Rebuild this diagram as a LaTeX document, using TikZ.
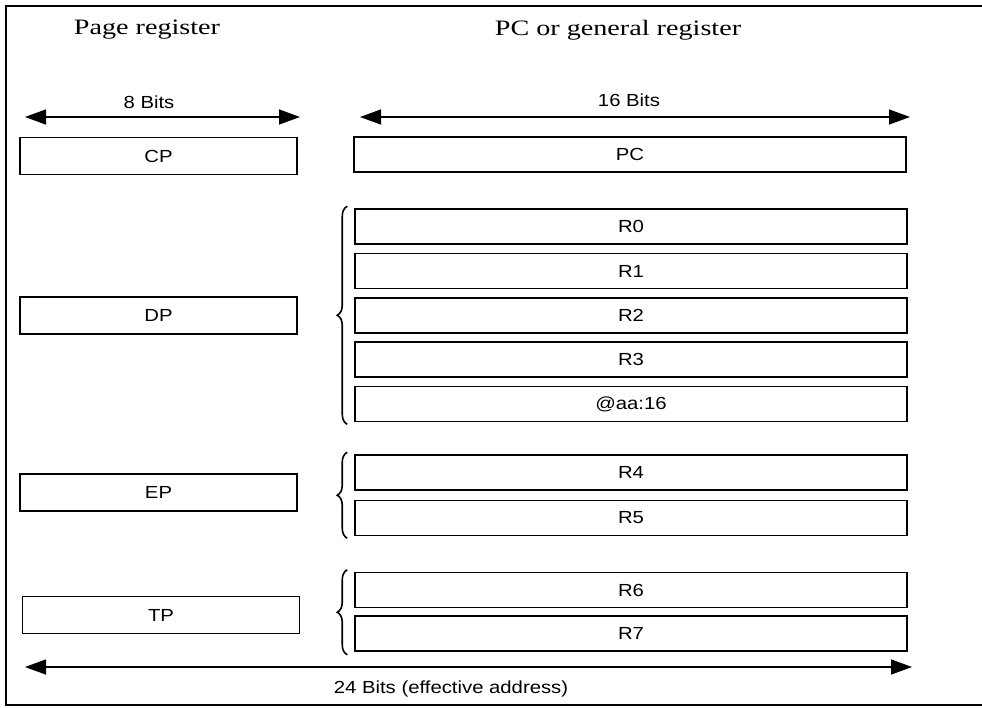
\documentclass[tikz,border=0pt]{standalone}
\usepackage{fontspec}
\setmainfont{Liberation Serif}
\newfontfamily\lblfont{Liberation Sans}
\usetikzlibrary{arrows.meta,decorations.pathreplacing}
\begin{document}
\begin{tikzpicture}[x=1pt,y=-1pt,
  reg/.style={draw,line width=1.5pt,inner sep=0pt,anchor=center,
    font=\lblfont\fontsize{17.5}{17.5}\selectfont},
  pagebox/.style={reg,minimum width=277pt,minimum height=37pt},
  gpbox/.style={reg,minimum width=552pt,minimum height=35pt},
  dimarrow/.style={line width=1.4pt,{Triangle[length=21pt,width=15pt]}-{Triangle[length=21pt,width=15pt]}},
  lbl/.style={font=\lblfont\fontsize{17.5}{17.5}\selectfont,inner sep=0pt},
  ttl/.style={font=\fontsize{22}{22}\selectfont,inner sep=0pt},
  grp/.style={line width=1.6pt,decorate,decoration={brace,amplitude=10pt}}]
\useasboundingbox (0,0) rectangle (982,707);
% frame
\draw[line width=1.3pt] (982,6) -- (6,6) -- (6,705) -- (982,705);
% titles
\node[ttl] (t1) at (147,30) {\scalebox{1.28}[1]{Page register}};
\node[ttl] (t2) at (618,30) {\scalebox{1.28}[1]{PC or general register}};
% dimension arrows
\coordinate (a1) at (25,117); \coordinate (b1) at (300,117);
\coordinate (a2) at (360,117); \coordinate (b2) at (910,117);
\coordinate (a3) at (25,667); \coordinate (b3) at (912,667);
\draw[dimarrow] (a1) -- (b1);
\draw[dimarrow] (a2) -- (b2);
\draw[dimarrow] (a3) -- (b3);
\node[lbl] (l8) at (149,102) {\scalebox{1.16}[1]{8 Bits}};
\node[lbl] (l16) at (629,100) {\scalebox{1.16}[1]{16 Bits}};
\node[lbl] (l24) at (451,689) {\scalebox{1.16}[1]{24 Bits (effective address)}};
% page registers
\node[pagebox] (cp) at (158.5,156) {\scalebox{1.16}[1]{CP}};
\node[pagebox] (dp) at (158.5,315.5) {\scalebox{1.16}[1]{DP}};
\node[pagebox] (ep) at (158.5,492.5) {\scalebox{1.16}[1]{EP}};
\node[pagebox] (tp) at (161,615) {\scalebox{1.16}[1]{TP}};
% general registers
\node[gpbox] (pc) at (630,154.5) {\scalebox{1.16}[1]{PC}};
\node[gpbox] (r0) at (631,226.5) {\scalebox{1.16}[1]{R0}};
\node[gpbox] (r1) at (631,271) {\scalebox{1.16}[1]{R1}};
\node[gpbox] (r2) at (631,315.5) {\scalebox{1.16}[1]{R2}};
\node[gpbox] (r3) at (631,359.5) {\scalebox{1.16}[1]{R3}};
\node[gpbox] (aa) at (631,404) {\scalebox{1.16}[1]{@aa:16}};
\node[gpbox] (r4) at (631,472.5) {\scalebox{1.16}[1]{R4}};
\node[gpbox] (r5) at (631,518) {\scalebox{1.16}[1]{R5}};
\node[gpbox] (r6) at (631,590) {\scalebox{1.16}[1]{R6}};
\node[gpbox] (r7) at (631,633.5) {\scalebox{1.16}[1]{R7}};
% braces
\draw[grp] ([xshift=-7pt,yshift=-2pt]aa.south west) -- ([xshift=-7pt,yshift=2pt]r0.north west);
\draw[grp] ([xshift=-7pt,yshift=-2pt]r5.south west) -- ([xshift=-7pt,yshift=2pt]r4.north west);
\draw[grp] ([xshift=-7pt,yshift=-3pt]r7.south west) -- ([xshift=-7pt,yshift=2pt]r6.north west);
\end{tikzpicture}
\end{document}
